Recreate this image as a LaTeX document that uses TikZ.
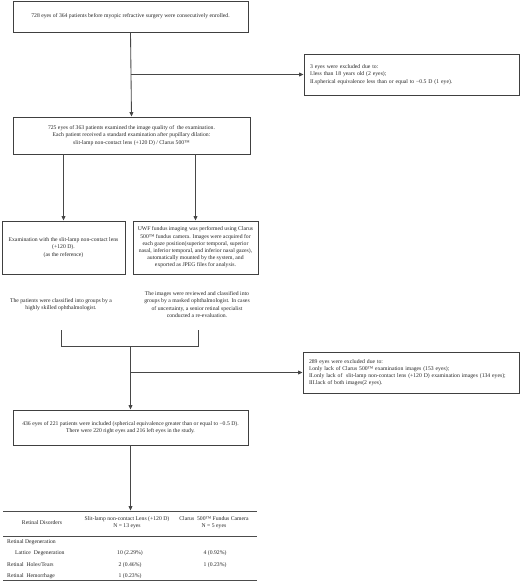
\documentclass[tikz,border=0pt]{standalone}
\usepackage{fontspec}
\setmainfont{Liberation Serif}
\usetikzlibrary{arrows.meta}
\begin{document}
\begin{tikzpicture}[x=1pt,y=-1pt,
  every node/.style={font=\fontsize{5.7}{7.2}\selectfont, text=black!85},
  box/.style={draw=black!75, line width=0.95pt, inner sep=0pt, align=center},
  lbox/.style={draw=black!75, line width=0.95pt, inner xsep=6pt, inner ysep=0pt, align=left},
  conn/.style={draw=black!72, line width=0.85pt},
  arr/.style={conn, -{Triangle[width=3.8pt,length=4.4pt]}},
  rule/.style={draw=black!70, line width=1pt},
  plain/.style={inner sep=0pt, align=center},
  cell/.style={inner sep=0pt, anchor=base}
]
\useasboundingbox (0,0) rectangle (520,581);

% boxes
\node[box, minimum width=235pt, minimum height=31pt] (b1) at (130.5,16.5)
  {728 eyes of 364 patients before myopic refractive surgery were consecutively enrolled.};
\node[lbox, minimum width=215pt, minimum height=41pt, text width=203pt] (ex1) at (411.5,74.5)
  {3 eyes were excluded due to:\\I.less than 18 years old (2 eyes);\\II.spherical equivalence less than or equal to \char"2212 0.5 D (1 eye).};
\node[box, minimum width=237pt, minimum height=37pt] (b2) at (131.5,135.5)
  {725 eyes of 363 patients examined the image quality of\ \ the examination.\\Each patient received a standard examination after pupillary dilation:\\slit-lamp non-contact lens (+120 D) / Clarus 500™};
\node[box, minimum width=123pt, minimum height=53pt] (b3) at (63.5,247.5)
  {Examination with the slit-lamp non-contact lens\\(+120 D).\\(as the reference)};
\node[box, minimum width=125pt, minimum height=53pt] (b4) at (195.5,247.5)
  {UWF fundus imaging was performed using Clarus\\500™ fundus camera. Images were acquired for\\each gaze position(superior temporal, superior\\nasal, inferior temporal, and inferior nasal gazes),\\automatically mounted by the system, and\\exported as JPEG files for analysis.};

\node[plain] (t1) at (61,304.5)
  {The patients were classified into groups by a\\highly skilled ophthalmologist.};
\node[plain] (t2) at (197,304.5)
  {The images were reviewed and classified into\\groups by a masked ophthalmologist. In cases\\of uncertainty, a senior retinal specialist\\conducted a re-evaluation.};

\node[lbox, minimum width=216pt, minimum height=41pt, text width=204pt] (ex2) at (411,372.5)
  {289 eyes were excluded due to:\\I.only lack of Clarus 500™ examination images (153 eyes);\\II.only lack of\ \ slit-lamp non-contact lens (+120 D) examination images (134 eyes);\\III.lack of both images(2 eyes).};
\node[box, minimum width=235pt, minimum height=35pt] (b5) at (130.5,427.5)
  {436 eyes of 221 patients were included (spherical equivalence greater than or equal to \char"2212 0.5 D).\\There were 220 right eyes and 216 left eyes in the study.};

% connectors
\coordinate (j1) at (b1.south |- ex1.west);
\draw[arr] (b1.south) -- (b2.north);
\draw[arr] (j1) -- (ex1.west);
\draw[arr] (b2.south -| b3.north) -- (b3.north);
\draw[arr] (b2.south -| b4.north) -- (b4.north);

\coordinate (c1) at (61,330);
\coordinate (c2) at (61,346);
\coordinate (c3) at (198,330);
\coordinate (c4) at (198,346);
\coordinate (c5) at (b5.north |- c2);
\coordinate (j2) at (b5.north |- ex2.west);
\draw[conn] (c1) -- (c2) -- (c4) -- (c3);
\draw[arr] (c5) -- (b5.north);
\draw[arr] (j2) -- (ex2.west);

\coordinate (tt) at (b5.south |- 0,510.5);
\draw[arr] (b5.south) -- (tt);

% table
\coordinate (r1a) at (3,511); \coordinate (r1b) at (257,511);
\coordinate (r2a) at (3,536); \coordinate (r2b) at (257,536);
\coordinate (r3a) at (3,580); \coordinate (r3b) at (257,580);
\draw[rule] (r1a) -- (r1b);
\draw[rule] (r2a) -- (r2b);
\draw[rule] (r3a) -- (r3b);

\node[plain] (h1) at (42,523) {Retinal Disorders};
\node[plain] (h2) at (127,523) {Slit-lamp non-contact Lens (+120 D)\\N = 13 eyes};
\node[plain] (h3) at (214,523) {Clarus\ \ 500™ Fundus Camera\\N = 5 eyes};

\node[cell, anchor=base west] (ra) at (7,543) {Retinal Degeneration};
\node[cell, anchor=base west] (rb) at (15,554.5) {Lattice\ \ Degeneration};
\node[cell] (rb2) at (130,554.5) {10 (2.29\%)};
\node[cell] (rb3) at (215,554.5) {4 (0.92\%)};
\node[cell, anchor=base west] (rc) at (7,566) {Retinal\ \ Holes/Tears};
\node[cell] (rc2) at (130,566) {2 (0.46\%)};
\node[cell] (rc3) at (215,566) {1 (0.23\%)};
\node[cell, anchor=base west] (rd) at (7,577) {Retinal\ \ Hemorrhage};
\node[cell] (rd2) at (130,577) {1 (0.23\%)};
\end{tikzpicture}
\end{document}
